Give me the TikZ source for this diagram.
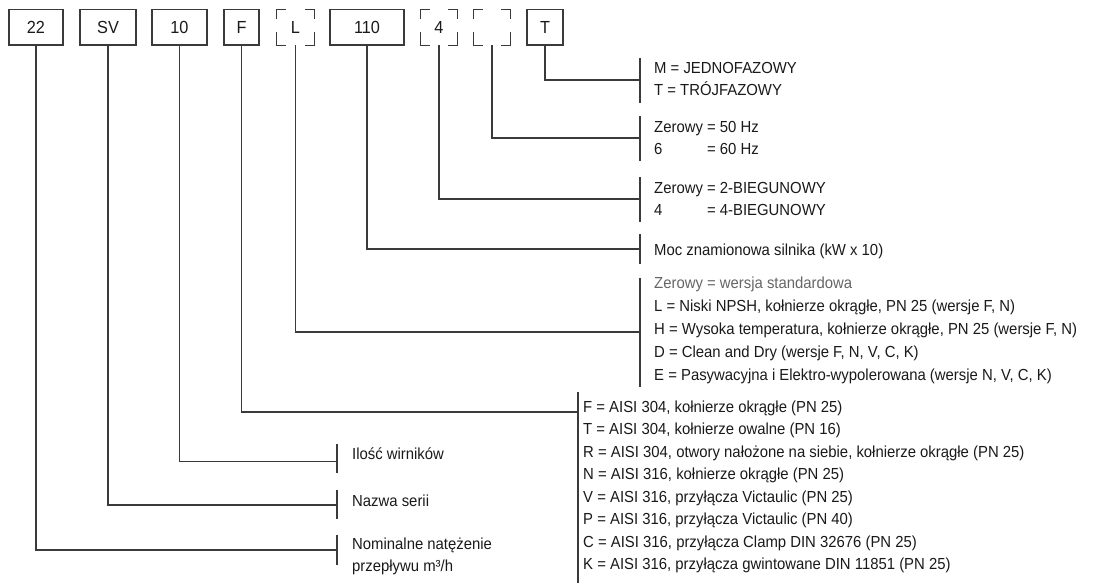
\documentclass[tikz,border=0pt]{standalone}
\usepackage{fontspec}
\setmainfont{Liberation Sans}[FakeStretch=0.93]
\definecolor{linec}{HTML}{3A3A3A}
\definecolor{txtc}{HTML}{1A1A1A}
\definecolor{greytxt}{HTML}{666666}
\begin{document}
\begin{tikzpicture}[x=1pt,y=-1pt,
  every node/.style={font=\fontsize{16}{19}\selectfont, text=txtc},
  box/.style={draw=linec, line width=1.1pt, minimum height=35.5pt, inner sep=0pt, font=\fontsize{17.5}{20}\selectfont},
  ghost/.style={minimum height=35.5pt, inner sep=0pt, font=\fontsize{17.5}{20}\selectfont},
  lbl/.style={anchor=base west, inner sep=0pt},
  conn/.style={draw=linec, line width=1.1pt},
  corner/.style={draw=linec, line width=1.1pt}]
\useasboundingbox (0,0) rectangle (1097,583);
\fill[white] (0,0) rectangle (1097,583);

% code boxes
\node[box, minimum width=54pt] (b22) at (36,27.25) {22};
\node[box, minimum width=56pt] (bSV) at (108,27.25) {SV};
\node[box, minimum width=55pt] (b10) at (179.5,27.25) {10};
\node[box, minimum width=35pt] (bF) at (241.5,27.25) {F};
\node[ghost, minimum width=37pt] (bL) at (295.5,27.25) {L};
\node[box, minimum width=74pt] (b110) at (367,27.25) {110};
\node[ghost, minimum width=36pt] (b4) at (439,27.25) {4};
\node[ghost, minimum width=36pt] (bE) at (492,27.25) {};
\node[box, minimum width=36pt] (bT) at (545,27.25) {T};

% dashed (corner-only) boxes
\foreach \b in {bL,b4,bE}{
  \draw[corner] ([yshift=-10pt]\b.north west) -- (\b.north west) -- ([xshift=9pt]\b.north west);
  \draw[corner] ([xshift=-9pt]\b.north east) -- (\b.north east) -- ([yshift=-10pt]\b.north east);
  \draw[corner] ([yshift=13pt]\b.south west) -- (\b.south west) -- ([xshift=9pt]\b.south west);
  \draw[corner] ([xshift=-9pt]\b.south east) -- (\b.south east) -- ([yshift=13pt]\b.south east);
}

% bracket bars and connection points
\coordinate (g1t) at (640,58);  \coordinate (g1b) at (640,103); \coordinate (g1m) at (640,80);
\coordinate (g2t) at (640,116); \coordinate (g2b) at (640,161); \coordinate (g2m) at (640,138);
\coordinate (g3t) at (640,177); \coordinate (g3b) at (640,222); \coordinate (g3m) at (640,199);
\coordinate (g4t) at (640,234); \coordinate (g4b) at (640,264); \coordinate (g4m) at (640,249);
\coordinate (g5t) at (640,278); \coordinate (g5b) at (640,387); \coordinate (g5m) at (640,332);
\coordinate (g6t) at (578,392); \coordinate (g6b) at (578,583); \coordinate (g6m) at (578,412);
\coordinate (g7t) at (337,444); \coordinate (g7b) at (337,473); \coordinate (g7m) at (337,461.5);
\coordinate (g8t) at (337,490); \coordinate (g8b) at (337,519); \coordinate (g8m) at (337,505);
\coordinate (g9t) at (337,535); \coordinate (g9b) at (337,565); \coordinate (g9m) at (337,550);

\foreach \g in {g1,g2,g3,g4,g5,g6,g7,g8,g9}{
  \draw[conn] (\g t) -- (\g b);
}

% connectors
\draw[conn] (bT.south) |- (g1m);
\draw[conn] (bE.south) |- (g2m);
\draw[conn] (b4.south) |- (g3m);
\draw[conn] (b110.south) |- (g4m);
\draw[conn] (bL.south) |- (g5m);
\draw[conn] (bF.south) |- (g6m);
\draw[conn] (b10.south) |- (g7m);
\draw[conn] (bSV.south) |- (g8m);
\draw[conn] (b22.south) |- (g9m);

% texts group 1
\node[lbl] (t1a) at (654,74) {M = JEDNOFAZOWY};
\node[lbl] (t1b) at (654,96) {T = TRÓJFAZOWY};
% group 2
\node[lbl] (t2a) at (654,132) {Zerowy = 50 Hz};
\node[lbl] (t2b) at (654,154) {\rlap{6}\phantom{Zerowy} = 60 Hz};
% group 3
\node[lbl] (t3a) at (654,193) {Zerowy = 2-BIEGUNOWY};
\node[lbl] (t3b) at (654,215) {\rlap{4}\phantom{Zerowy} = 4-BIEGUNOWY};
% group 4
\node[lbl] (t4a) at (654,255) {Moc znamionowa silnika (kW x 10)};
% group 5
\node[lbl, text=greytxt] (t5a) at (654,288) {Zerowy = wersja standardowa};
\node[lbl] (t5b) at (654,311) {L = Niski NPSH, kołnierze okrągłe, PN 25 (wersje F, N)};
\node[lbl] (t5c) at (654,334) {H = Wysoka temperatura, kołnierze okrągłe, PN 25 (wersje F, N)};
\node[lbl] (t5d) at (654,357) {D = Clean and Dry (wersje F, N, V, C, K)};
\node[lbl] (t5e) at (654,380) {E = Pasywacyjna i Elektro-wypolerowana (wersje N, V, C, K)};
% group 6
\node[lbl] (t6a) at (583,412) {F = AISI 304, kołnierze okrągłe (PN 25)};
\node[lbl] (t6b) at (583,434.5) {T = AISI 304, kołnierze owalne (PN 16)};
\node[lbl] (t6c) at (583,457) {R = AISI 304, otwory nałożone na siebie, kołnierze okrągłe (PN 25)};
\node[lbl] (t6d) at (583,479.5) {N = AISI 316, kołnierze okrągłe (PN 25)};
\node[lbl] (t6e) at (583,502) {V = AISI 316, przyłącza Victaulic (PN 25)};
\node[lbl] (t6f) at (583,524.5) {P = AISI 316, przyłącza Victaulic (PN 40)};
\node[lbl] (t6g) at (583,547) {C = AISI 316, przyłącza Clamp DIN 32676 (PN 25)};
\node[lbl] (t6h) at (583,569.5) {K = AISI 316, przyłącza gwintowane DIN 11851 (PN 25)};
% left groups
\node[lbl] (t7a) at (352,459) {Ilość wirników};
\node[lbl] (t8a) at (352,506) {Nazwa serii};
\node[lbl] (t9a) at (352,549) {Nominalne natężenie};
\node[lbl] (t9b) at (352,571) {przepływu m³/h};
\end{tikzpicture}
\end{document}
